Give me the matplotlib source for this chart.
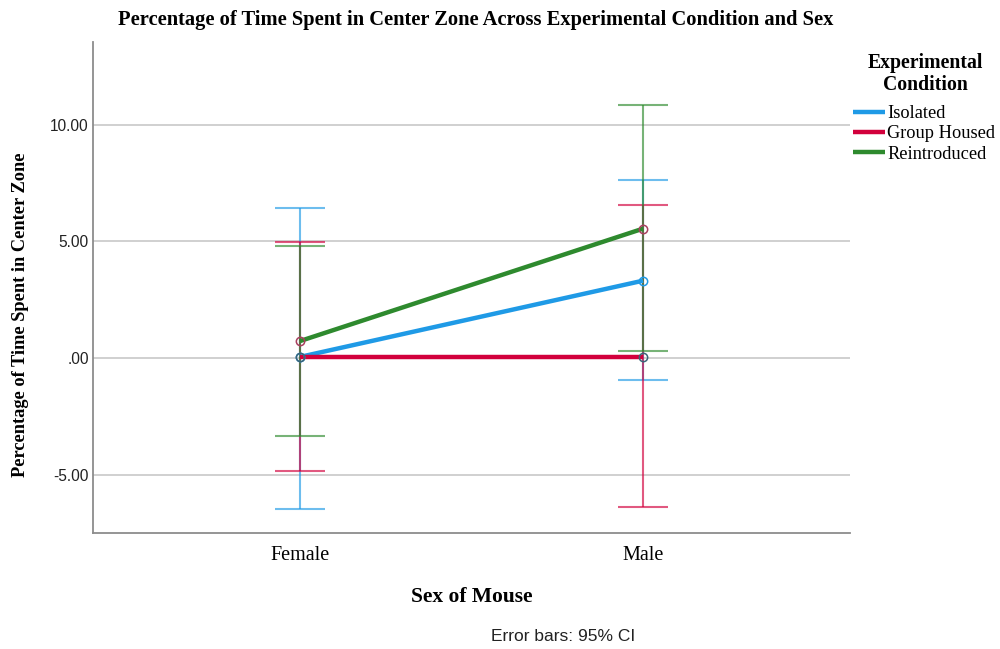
import matplotlib
matplotlib.use("Agg")
import matplotlib.pyplot as plt
import numpy as np

# group means and 95% CI bounds (Female, Male)
sexes = ["Female", "Male"]
conditions = ["Isolated", "Group Housed", "Reintroduced"]
means = {
    "Isolated": [0.05, 3.32],
    "Group Housed": [0.05, 0.05],
    "Reintroduced": [0.73, 5.55],
}
ci_low = {
    "Isolated": [-6.47, -0.95],
    "Group Housed": [-4.82, -6.38],
    "Reintroduced": [-3.35, 0.30],
}
ci_high = {
    "Isolated": [6.45, 7.63],
    "Group Housed": [4.97, 6.55],
    "Reintroduced": [4.80, 10.85],
}
yticks = [-5, 0, 5, 10]
ytick_labels = ["-5.00", ".00", "5.00", "10.00"]

colors = {
    "Isolated": "#1f9ae6",
    "Group Housed": "#d2003c",
    "Reintroduced": "#2e8a2e",
}
marker_colors = {
    "Isolated": "#1f9ae6",
    "Group Housed": "#3b6478",
    "Reintroduced": "#a8405e",
}

serif = ["Liberation Serif", "DejaVu Serif"]
sans = ["Liberation Sans", "DejaVu Sans"]

fig = plt.figure(figsize=(10, 6.49), dpi=100)
ax = fig.add_axes([0.093, 0.1787, 0.757, 0.7565])

x = np.arange(len(sexes))
cap = 0.074

for c in conditions:
    col = colors[c]
    for i in x:
        ax.vlines(i, ci_low[c][i], ci_high[c][i], color=col, lw=1.5, alpha=0.65, zorder=2)
        ax.hlines([ci_low[c][i], ci_high[c][i]], i - cap, i + cap, color=col, lw=1.5, alpha=0.65, zorder=2)

for c in conditions:
    ax.plot(x, means[c], color=colors[c], lw=3.2, solid_capstyle="butt", label=c, zorder=3)
    ax.plot(x, means[c], ls="none", marker="o", ms=6, mfc="none", mec=marker_colors[c], mew=1.1, zorder=4)

ax.set_xlim(-0.603, 1.603)
ax.set_ylim(-7.5, 13.55)
ax.set_xticks(x)
ax.set_xticklabels(sexes, fontfamily=serif, fontsize=14.5)
ax.set_yticks(yticks)
ax.set_yticklabels(ytick_labels, fontfamily=sans, fontsize=11.2, color="#222222")
ax.grid(axis="y", color="#c4c4c4", lw=1.1)
ax.set_axisbelow(True)
ax.tick_params(axis="x", length=0, pad=9)
ax.tick_params(axis="y", length=0, pad=3)

for s in ["top", "right"]:
    ax.spines[s].set_visible(False)
for s in ["left", "bottom"]:
    ax.spines[s].set_color("#8c8c8c")
    ax.spines[s].set_linewidth(1.3)

ax.set_title("Percentage of Time Spent in Center Zone Across Experimental Condition and Sex",
             fontfamily=serif, fontweight="bold", fontsize=14.8, pad=12, x=0.505)
ax.set_xlabel("Sex of Mouse", fontfamily=serif, fontweight="bold", fontsize=15.5, labelpad=16)
ax.set_ylabel("Percentage of Time Spent in Center Zone", fontfamily=serif, fontweight="bold",
              fontsize=13.2)
ax.yaxis.set_label_coords(-0.084, 0.444)

# legend heading drawn separately so it can sit higher above the entries
fig.text(0.925, 1 - 74 / 649, "Experimental\nCondition", fontfamily=serif, fontweight="bold",
         fontsize=14.2, ha="center", va="center", multialignment="center", linespacing=1.18)
leg = fig.legend(loc="upper left", bbox_to_anchor=(0.836, 0.8635), frameon=False,
                 handlelength=1.75, handletextpad=0.15, labelspacing=0.18,
                 prop={"family": serif, "size": 13.2})

fig.text(0.563, 0.012, "Error bars: 95% CI", fontfamily=sans, fontsize=12.5, ha="center", color="#222222")

fig.savefig("out.png", dpi=100)
